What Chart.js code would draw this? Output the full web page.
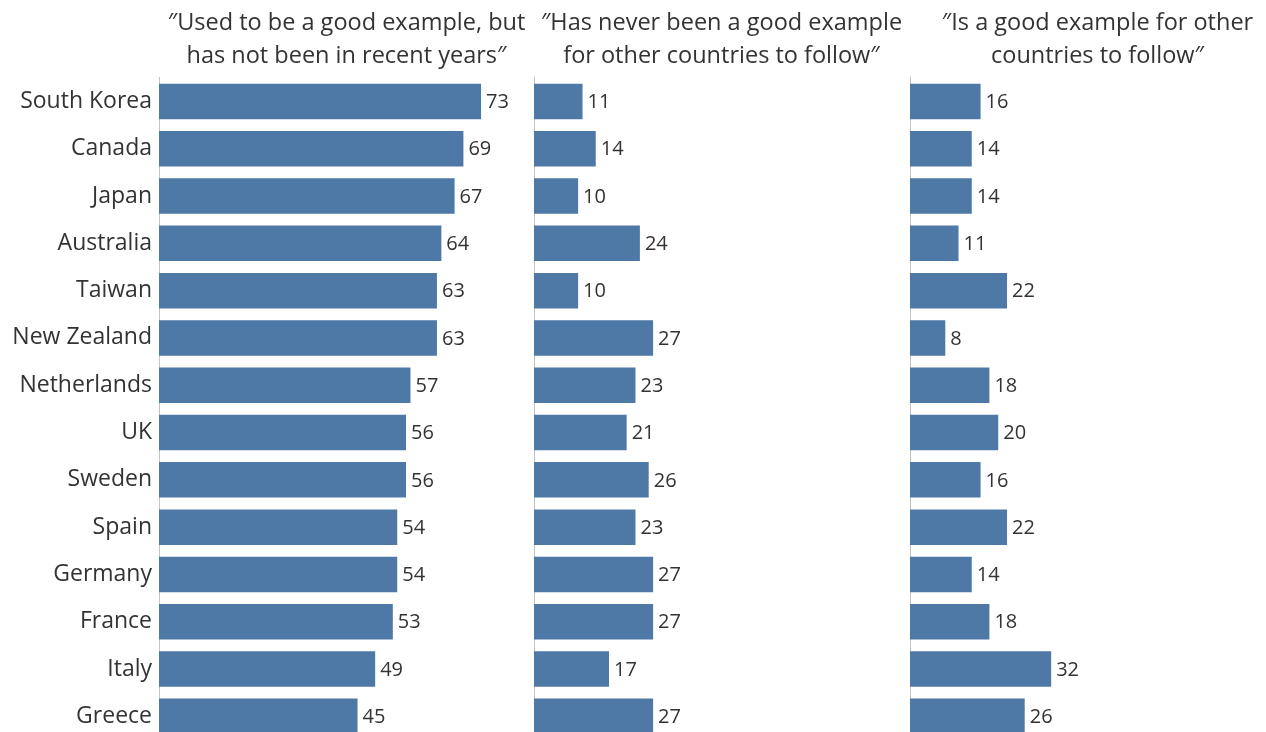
<!DOCTYPE html>
<html>
<head>
<meta charset="utf-8">
<script src="https://cdn.jsdelivr.net/npm/chart.js@4"></script>
<style>
  html, body { margin: 0; padding: 0; background: #fff; overflow: hidden; }
  #wrap { position: relative; width: 1266px; height: 732px; overflow: hidden; }
  #wrap canvas { position: absolute; top: 0; }
</style>
</head>
<body>
<div id="wrap">
  <canvas id="c1" width="534" height="740" style="left:0"></canvas>
  <canvas id="c2" width="375" height="740" style="left:534px"></canvas>
  <canvas id="c3" width="375" height="740" style="left:910px"></canvas>
</div>
<script>
// ─── Dados ────────────────────────────────────────────────────────────────────
const countries = [
  'South Korea', 'Canada', 'Japan', 'Australia', 'Taiwan', 'New Zealand',
  'Netherlands', 'UK', 'Sweden', 'Spain', 'Germany', 'France', 'Italy', 'Greece',
];
const usedToBe   = [73, 69, 67, 64, 63, 63, 57, 56, 56, 54, 54, 53, 49, 45];
const neverBeen  = [11, 14, 10, 24, 10, 27, 23, 21, 26, 23, 27, 27, 17, 27];
const isGoodNow  = [16, 14, 14, 11, 22,  8, 18, 20, 16, 22, 14, 18, 32, 26];

const titles = [
  ['″Used to be a good example, but', 'has not been in recent years″'],
  ['″Has never been a good example', 'for other countries to follow″'],
  ['″Is a good example for other', 'countries to follow″'],
];

const BAR_COLOR  = '#4e79a7';
const TEXT_COLOR = '#333333';
const FONT       = '"Open Sans", sans-serif';

// Rótulo com o valor no fim de cada barra
const valueLabels = {
  id: 'valueLabels',
  afterDatasetsDraw(chart) {
    const { ctx } = chart;
    const ds = chart.data.datasets[0];
    ctx.save();
    ctx.font = `20px ${FONT}`;
    ctx.fillStyle = TEXT_COLOR;
    ctx.textAlign = 'left';
    ctx.textBaseline = 'middle';
    chart.getDatasetMeta(0).data.forEach((bar, i) => {
      ctx.fillText(ds.data[i], bar.x + 5, bar.y + 1);
    });
    ctx.restore();
  },
};

function makePanel(canvasId, values, title, showLabels) {
  const ctx = document.getElementById(canvasId).getContext('2d');
  return new Chart(ctx, {
    type: 'bar',
    data: {
      labels: countries,
      datasets: [{
        data: values,
        backgroundColor: BAR_COLOR,
        barPercentage: 0.75,
        categoryPercentage: 1,
      }],
    },
    options: {
      indexAxis: 'y',
      responsive: false,
      animation: false,
      layout: { padding: 0 },
      scales: {
        x: { display: false, min: 0, max: 85 },
        y: {
          grid: { display: false, drawTicks: false },
          border: { display: true, color: '#c4c4c4', dash: [2, 2], width: 1 },
          ticks: {
            display: showLabels,
            color: TEXT_COLOR,
            padding: 7,
            font: { family: FONT, size: 23 },
          },
          afterFit: s => {
            s.width = showLabels ? 159 : 0;
            s.paddingTop = 0;
            s.paddingBottom = 0;
          },
        },
      },
      plugins: {
        legend: { display: false },
        tooltip: { enabled: false },
        title: {
          display: true,
          fullSize: false,
          text: title,
          color: TEXT_COLOR,
          font: { family: FONT, size: 23.5, weight: 'normal', lineHeight: 1.4 },
          padding: { top: 7, bottom: 5 },
        },
      },
    },
    plugins: [valueLabels],
  });
}

// ─── Painéis ──────────────────────────────────────────────────────────────────
makePanel('c1', usedToBe,  titles[0], true);
makePanel('c2', neverBeen, titles[1], false);
makePanel('c3', isGoodNow, titles[2], false);
</script>
</body>
</html>
